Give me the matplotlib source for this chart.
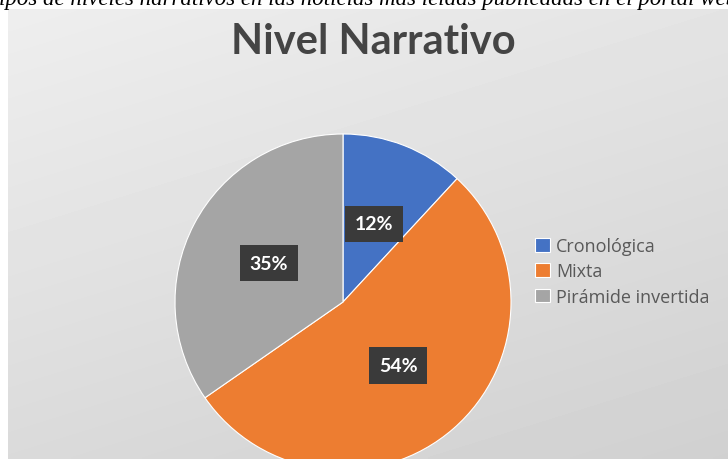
import numpy as np
import matplotlib
matplotlib.use("Agg")
import matplotlib.pyplot as plt

# Data
categories = ["Cronológica", "Mixta", "Pirámide invertida"]
values = [12, 54, 35]
pct_labels = ["12%", "54%", "35%"]
colors = ["#4472C4", "#ED7D31", "#A5A5A5"]

title = "Nivel Narrativo"
caption = "ipos de niveles narrativos en las noticias más leídas publicadas en el portal web"

W, H = 728, 460
fig = plt.figure(figsize=(W / 100, H / 100), dpi=100)
fig.patch.set_facecolor("white")

# chart area in pixel coordinates
ax = fig.add_axes([0, 0, 1, 1])

# background gradient (light top-left, darker bottom-right)
gx = np.linspace(0, 1, 200)
gy = np.linspace(0, 1, 130)
X, Y = np.meshgrid(gx, gy)
shade = (238 - 10 * X - 20 * Y) / 255.0
ax.imshow(shade, cmap="gray", vmin=0, vmax=1, extent=(8, W, 0, H - 10),
          origin="upper", aspect="auto", zorder=0, interpolation="bilinear")

# pie
cx, cy, r = 343, H - 303, 168
wedges, _ = ax.pie(values, colors=colors, startangle=90, counterclock=False,
                   center=(cx, cy), radius=r,
                   wedgeprops=dict(edgecolor="white", linewidth=0.8))
for w in wedges:
    w.set_zorder(2)

# data labels in dark boxes
total = sum(values)
start = 90.0
for v, lab in zip(values, pct_labels):
    ang = np.deg2rad(start - 360.0 * v / total / 2)
    start -= 360.0 * v / total
    lx = cx + 0.5 * r * np.cos(ang)
    ly = cy + 0.5 * r * np.sin(ang)
    ax.text(lx, ly, lab, ha="center", va="center", color="white",
            fontsize=14, fontweight="bold", family="Lato", zorder=4,
            bbox=dict(boxstyle="square,pad=0.5", facecolor="#3a3a3a",
                      edgecolor="none"))

ax.set_xlim(0, W)
ax.set_ylim(0, H)
ax.set_aspect("auto")
ax.axis("off")

# title
ax.text(373, H - 42, title, ha="center", va="center", fontsize=30,
        fontweight="bold", family="Lato", color="#444444", zorder=4)

# legend
leg = ax.legend(wedges, categories, loc="upper left",
                bbox_to_anchor=(519 / W, 1 - 222 / H), frameon=False,
                handlelength=0.8, handleheight=0.8,
                handletextpad=0.35, labelspacing=0.4,
                prop=dict(family="Open Sans", size=13))
for t in leg.get_texts():
    t.set_color("#595959")

# cut-off caption at the very top
fig.text(-0.002, (H - 5) / H, caption, ha="left", va="baseline",
         fontsize=16.5, style="italic", family="Liberation Serif",
         color="black")

fig.savefig("out.png", dpi=100, facecolor="white")
